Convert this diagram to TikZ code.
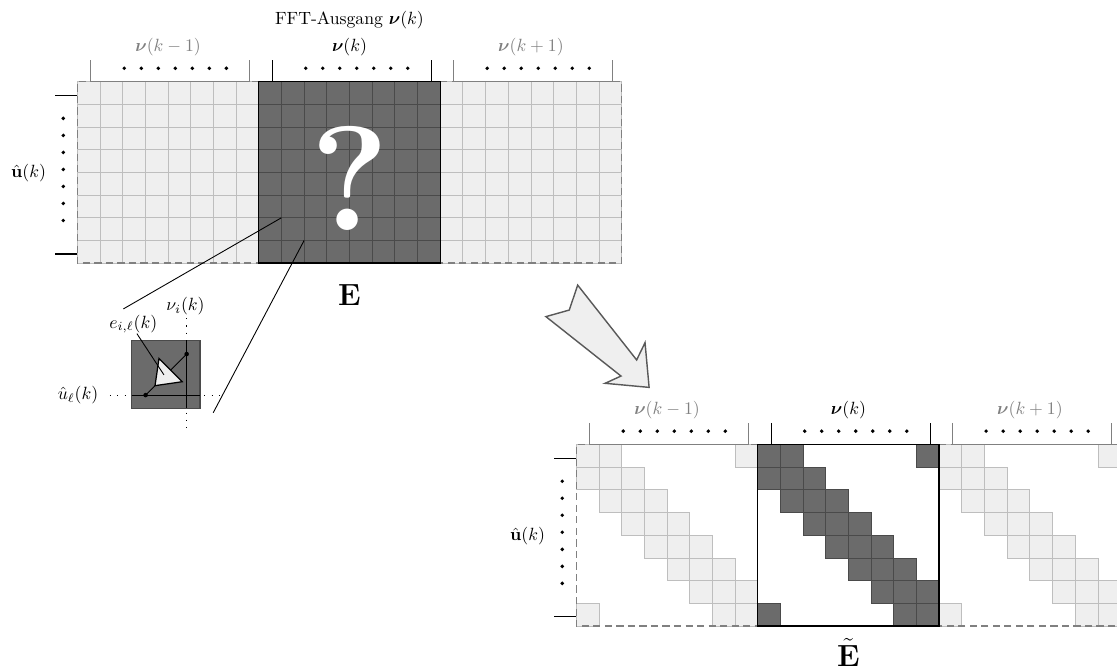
\documentclass[tikz,border=0pt]{standalone}
\usepackage{amsmath}
\usepackage{tikz}
\usetikzlibrary{calc}

\definecolor{cellfill}{HTML}{6B6B6B}
\definecolor{celldraw}{HTML}{4A4A4A}
\definecolor{sidefill}{HTML}{EFEFEF}
\definecolor{sidedraw}{HTML}{BEBEBE}
\definecolor{framegray}{HTML}{808080}

\tikzset{
  darkcell/.style={fill=cellfill,draw=celldraw,line width=0.5pt},
  lightcell/.style={fill=sidefill,draw=sidedraw,line width=0.5pt},
  sideframe/.style={draw=framegray,dash pattern=on 4pt off 2.5pt,line width=0.8pt},
  mainframe/.style={draw=black,line width=0.8pt},
  guide/.style={dash pattern=on 0.6pt off 3.5pt,line width=0.6pt},
}

% bracket with dots over a block of 8 columns: #1 = left x, #2 = top y, #3 = colour
\newcommand{\blockbrace}[3]{
  \draw[#3,line width=0.6pt] (#1+0.6,#2+0.95) -- (#1+0.6,#2) -- (#1+7.6,#2) -- (#1+7.6,#2+0.95);
  \foreach \d in {0,...,6}
    \fill (#1+2.07+0.75*\d,#2+0.59) circle(0.085);
}
% ticks with dots left of the 8 rows: #1 = left x, #2 = top y
\newcommand{\rowbrace}[2]{
  \draw[line width=0.6pt] (#1-0.98,#2-0.6) -- (#1,#2-0.6);
  \draw[line width=0.6pt] (#1-0.98,#2-7.6) -- (#1,#2-7.6);
  \foreach \d in {0,...,6}
    \fill (#1-0.62,#2-1.62-0.75*\d) circle(0.085);
}

\begin{document}
\begin{tikzpicture}[x=0.45cm,y=0.45cm]
  \clip (-3.41,3.6) rectangle (45.84,-25.9);

  % full matrix E
  \foreach \c in {0,...,7}
    \foreach \r in {0,...,7}{
      \draw[lightcell] (\c,-\r) rectangle ++(1,-1);
      \draw[lightcell] (16+\c,-\r) rectangle ++(1,-1);
      \draw[darkcell] (8+\c,-\r) rectangle ++(1,-1);
    }
  \draw[sideframe] (8,0) -- (0,0) -- (0,-8) -- (8,-8);
  \draw[sideframe] (16,0) -- (24,0) -- (24,-8) -- (16,-8);
  \draw[mainframe] (8,0) rectangle (16,-8);
  \blockbrace{0}{0}{framegray}
  \blockbrace{8}{0}{black}
  \blockbrace{16}{0}{framegray}
  \rowbrace{0}{0}

  \node[text=framegray] (nuprev) at (4,1.52) {$\boldsymbol{\nu}(k-1)$};
  \node (nucur) at (12,1.52) {$\boldsymbol{\nu}(k)$};
  \node[text=framegray] (nunext) at (20,1.52) {$\boldsymbol{\nu}(k+1)$};
  \node (fft) at (12,2.7) {FFT-Ausgang $\boldsymbol{\nu}(k)$};
  \node (uhat) at (-2.15,-4.05) {$\hat{\mathbf{u}}(k)$};
  \node[text=white,font=\fontsize{84}{84}\selectfont\bfseries] (qm) at (12,-4.25) {?};
  \node[font=\LARGE,anchor=base] (E) at (12,-9.85) {$\mathbf{E}$};

  % one entry, enlarged
  \coordinate (cellTL) at (9,-6);
  \coordinate (cellBR) at (10,-7);
  \coordinate (zoomA) at (2.03,-10.02);
  \coordinate (zoomB) at (5.99,-14.6);
  \draw[line width=0.5pt] (cellTL) -- (zoomA);
  \draw[line width=0.5pt] (cellBR) -- (zoomB);

  \draw[darkcell,line width=0.8pt] (2.4,-11.4) rectangle ++(3,-3);
  \draw[guide] (1.44,-13.82) -- (6.37,-13.82);
  \draw[guide] (4.82,-10.43) -- (4.82,-15.28);
  \draw[line width=0.6pt] (2.4,-13.82) -- (5.4,-13.82);
  \draw[line width=0.6pt] (4.82,-11.4) -- (4.82,-14.4);

  \coordinate (ul) at (3.01,-13.82);
  \coordinate (ni) at (4.82,-12.01);
  \draw[line width=0.5pt] (ul) -- (ni);
  \fill (ul) circle(0.1);
  \fill (ni) circle(0.1);
  \coordinate (tip) at ($(ul)!0.23!(ni)$);
  \coordinate (base) at ($(ul)!0.61!(ni)$);
  \draw[fill=sidefill,line width=0.7pt] (tip) -- ($(base)!0.327cm!90:(ni)$) -- ($(base)!0.327cm!-90:(ni)$) -- cycle;

  \node[inner sep=0pt] (eil) at (2.47,-10.69) {$e_{i,\ell}(k)$};
  \node (nui) at (4.77,-9.9) {$\nu_i(k)$};
  \node[anchor=east] (ullabel) at (1.2,-13.82) {$\hat{u}_\ell(k)$};
  \coordinate (etri) at (3.82,-12.93);
  \draw[line width=0.5pt] ([xshift=2pt]eil.south) -- (etri);

  % arrow to the banded matrix
  \draw[fill=sidefill,draw=black!65,line width=0.8pt] (20.66,-10.36) -- (21.69,-10.07) -- (22.06,-8.97)
    -- (24.66,-12.27) -- (25.03,-11.51) -- (25.21,-13.48) -- (23.27,-13.30) -- (23.97,-12.98) -- cycle;

  % banded matrix E~
  \foreach \c in {0,...,7}
    \foreach \r in {0,...,7}{
      \pgfmathtruncatemacro{\band}{mod(\c-\r+9,8)}
      \ifnum\band<3
        \draw[lightcell] (22+\c,-16-\r) rectangle ++(1,-1);
        \draw[lightcell] (38+\c,-16-\r) rectangle ++(1,-1);
        \draw[darkcell] (30+\c,-16-\r) rectangle ++(1,-1);
      \fi
    }
  \draw[sideframe] (30,-16) -- (22,-16) -- (22,-24) -- (30,-24);
  \draw[sideframe] (38,-16) -- (46,-16) -- (46,-24) -- (38,-24);
  \draw[mainframe] (30,-16) rectangle (38,-24);
  \blockbrace{22}{-16}{framegray}
  \blockbrace{30}{-16}{black}
  \blockbrace{38}{-16}{framegray}
  \rowbrace{22}{-16}

  \node[text=framegray] (nuprevb) at (26,-14.48) {$\boldsymbol{\nu}(k-1)$};
  \node (nucurb) at (34,-14.48) {$\boldsymbol{\nu}(k)$};
  \node[text=framegray] (nunextb) at (42,-14.48) {$\boldsymbol{\nu}(k+1)$};
  \node (uhatb) at (19.85,-20.05) {$\hat{\mathbf{u}}(k)$};
  \node[font=\LARGE,anchor=base] (Et) at (34,-25.8) {$\tilde{\mathbf{E}}$};
\end{tikzpicture}
\end{document}
